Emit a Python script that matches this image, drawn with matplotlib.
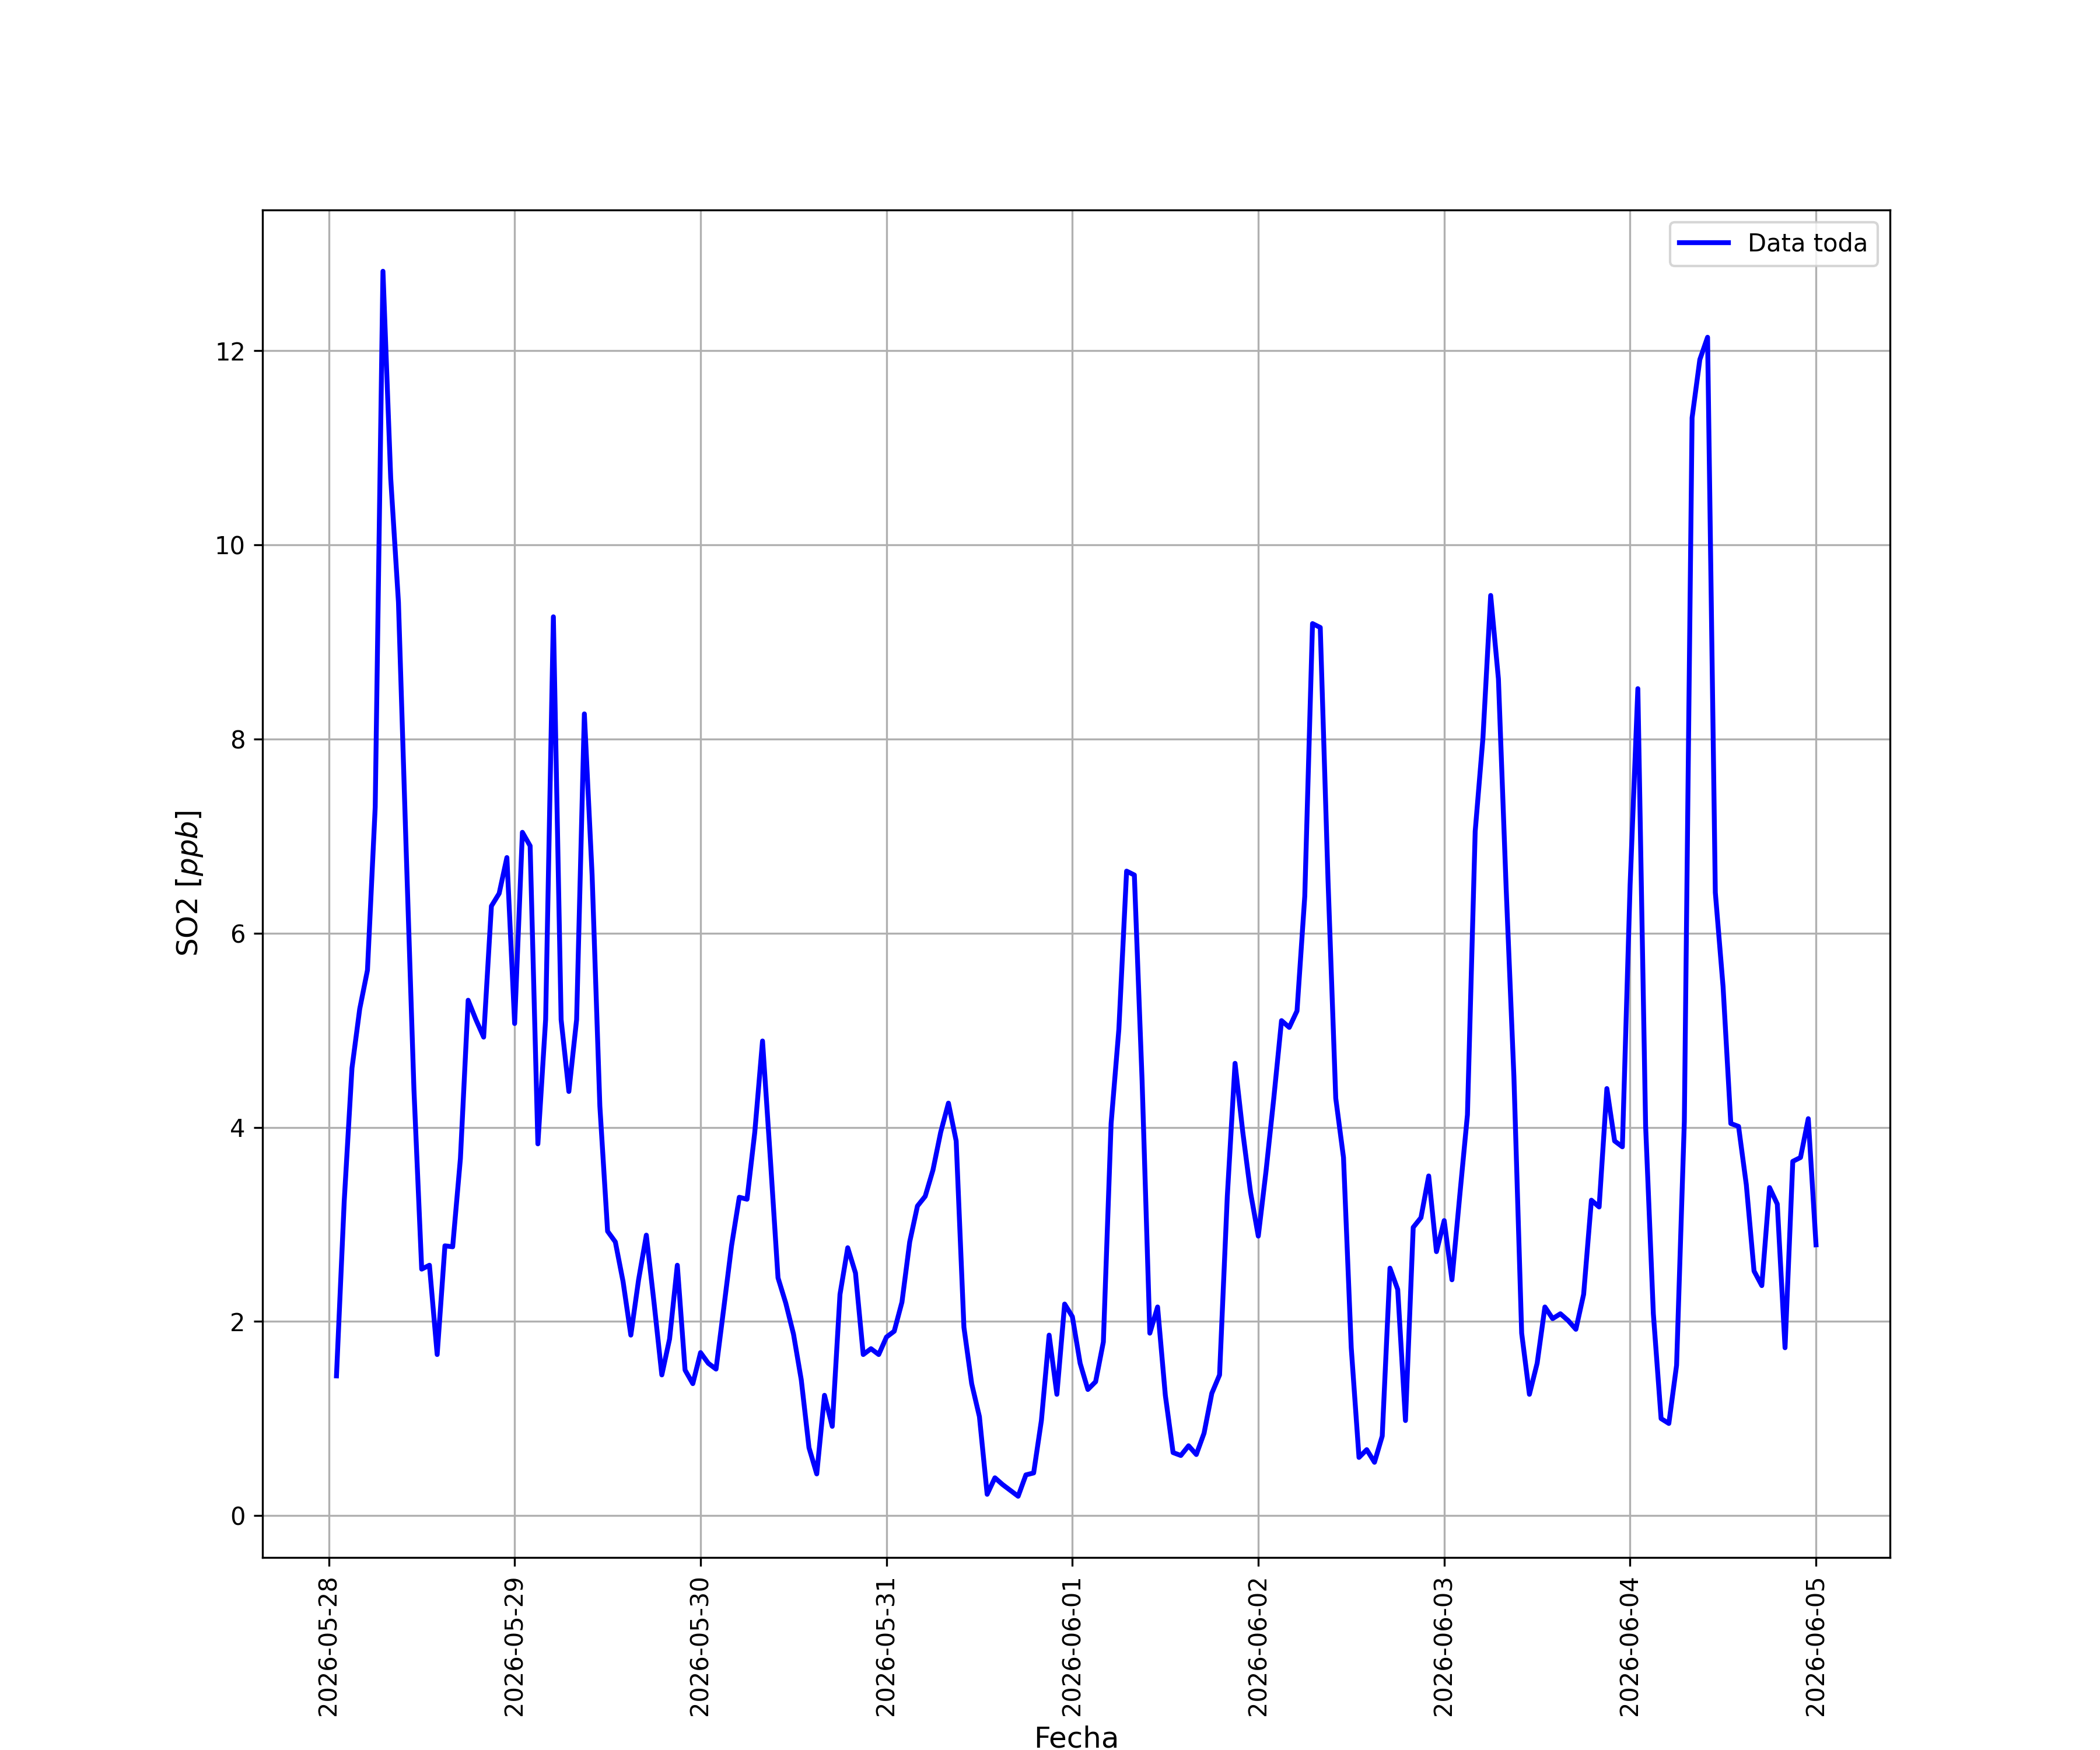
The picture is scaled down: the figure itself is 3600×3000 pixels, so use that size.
import matplotlib

matplotlib.use("Agg")
import matplotlib.dates as mdates
import matplotlib.pyplot as plt
import numpy as np
import pandas as pd

# hourly SO2 readings, 2026-05-28 01:00 .. 2026-06-05 00:00
start = "2026-05-28 01:00"

day_0528 = [1.44, 3.24, 4.61, 5.22, 5.62, 7.30, 12.82, 10.69, 9.41, 6.85, 4.39, 2.54,
            2.58, 1.66, 2.78, 2.77, 3.68, 5.31, 5.11, 4.93, 6.28, 6.41, 6.78]
day_0529 = [5.07, 7.04, 6.90, 3.83, 5.11, 9.26, 5.11, 4.37, 5.11, 8.26, 6.60, 4.22,
            2.93, 2.82, 2.41, 1.86, 2.43, 2.89, 2.19, 1.45, 1.82, 2.58, 1.50, 1.36]
day_0530 = [1.68, 1.57, 1.51, 2.14, 2.78, 3.28, 3.26, 3.95, 4.89, 3.69, 2.45, 2.19,
            1.87, 1.40, 0.70, 0.43, 1.24, 0.92, 2.28, 2.76, 2.50, 1.66, 1.72, 1.66]
day_0531 = [1.84, 1.90, 2.20, 2.82, 3.19, 3.29, 3.56, 3.95, 4.25, 3.86, 1.94, 1.36,
            1.02, 0.22, 0.39, 0.32, 0.26, 0.20, 0.42, 0.44, 0.98, 1.86, 1.25, 2.18]
day_0601 = [2.05, 1.57, 1.30, 1.38, 1.79, 4.04, 5.01, 6.64, 6.60, 4.48, 1.88, 2.15,
            1.24, 0.65, 0.62, 0.72, 0.63, 0.85, 1.26, 1.45, 3.29, 4.66, 3.95, 3.33]
day_0602 = [2.88, 3.55, 4.30, 5.10, 5.03, 5.20, 6.38, 9.19, 9.15, 6.55, 4.30, 3.69,
            1.73, 0.60, 0.68, 0.55, 0.82, 2.55, 2.33, 0.98, 2.97, 3.07, 3.50, 2.72]
day_0603 = [3.04, 2.43, 3.29, 4.13, 7.05, 8.01, 9.48, 8.62, 6.46, 4.52, 1.88, 1.25,
            1.57, 2.15, 2.03, 2.08, 2.01, 1.92, 2.28, 3.25, 3.18, 4.40, 3.86, 3.80]
day_0604 = [6.50, 8.52, 4.02, 2.08, 1.00, 0.95, 1.55, 4.06, 11.31, 11.91, 12.14, 6.42,
            5.45, 4.04, 4.01, 3.41, 2.52, 2.37, 3.38, 3.21, 1.73, 3.65, 3.69, 4.09]
day_0605 = [2.79]

so2 = np.array(day_0528 + day_0529 + day_0530 + day_0531 + day_0601
               + day_0602 + day_0603 + day_0604 + day_0605)
fechas = pd.date_range(start, periods=len(so2), freq="h")

fig, ax = plt.subplots(figsize=(12, 10))
ax.plot(fechas, so2, color="blue", lw=2, label="Data toda")
ax.xaxis.set_major_locator(mdates.DayLocator())
ax.xaxis.set_major_formatter(mdates.DateFormatter("%Y-%m-%d"))
plt.setp(ax.get_xticklabels(), rotation=90)
ax.set_xlabel("Fecha", fontsize=12)
ax.set_ylabel("SO2 [$ppb$]", fontsize=12)
ax.grid(True)
ax.legend(loc="upper right")
fig.savefig("out.png", dpi=300)
